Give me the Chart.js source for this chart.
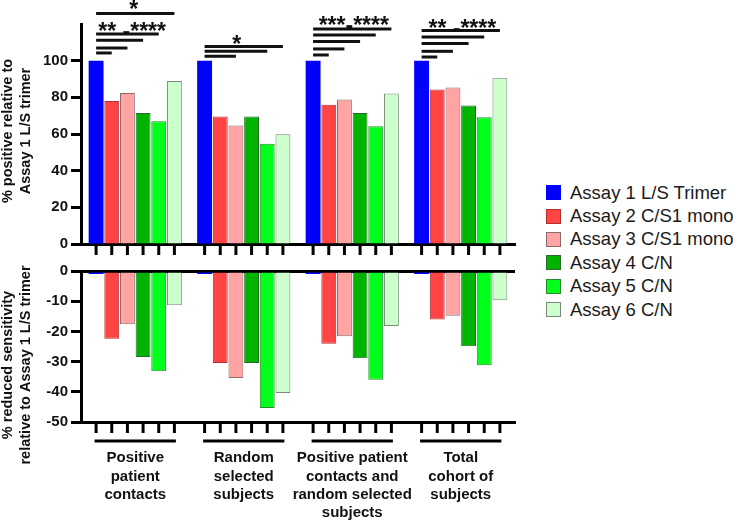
<!DOCTYPE html>
<html>
<head>
<meta charset="utf-8">
<script src="https://cdn.jsdelivr.net/npm/chart.js@4.4.1/dist/chart.umd.min.js"></script>
<style>
    html, body { margin: 0; padding: 0; background: #fff; }
    #wrap { position: relative; width: 733px; height: 521px; font-family: "Liberation Sans", Arial, sans-serif; }
    #topBox { position: absolute; left: 0; top: 0; width: 530px; height: 262px; }
    #bottomBox { position: absolute; left: 0; top: 258px; width: 530px; height: 263px; }
    #legend { position: absolute; left: 546px; top: 181px; }
    .item { height: 23.4px; display: flex; align-items: center; font-size: 18.5px; color: #1a1a1a; white-space: nowrap; }
    .sw { width: 15px; height: 15px; box-sizing: border-box; margin-right: 9px; }
</style>
</head>
<body>
<div id="wrap">
    <div id="topBox"><canvas id="topChart"></canvas></div>
    <div id="bottomBox"><canvas id="bottomChart"></canvas></div>
    <div id="legend"></div>
</div>
<script>
(function () {
    'use strict';

    var groups = [
        ['Positive', 'patient', 'contacts'],
        ['Random', 'selected', 'subjects'],
        ['Positive patient', 'contacts and', 'random selected', 'subjects'],
        ['Total', 'cohort of', 'subjects']
    ];
    var assays = ['Assay 1 L/S Trimer', 'Assay 2 C/S1 mono', 'Assay 3 C/S1 mono', 'Assay 4 C/N', 'Assay 5 C/N', 'Assay 6 C/N'];
    var colors = ['#0000ff', '#ff4444', '#ffa3a3', '#00b300', '#00ff1a', '#ccffcc'];
    var borders = ['#0000ff', '#b03030', '#8a6a6a', '#2a6a2a', '#2a8a2a', '#7a8a7a'];

    // % positive relative to assay 1
    var assay1Pos = [100, 100, 100, 100];
    var assay2Pos = [78, 69.6, 76, 84.3];
    var assay3Pos = [82.4, 64.7, 78.8, 85.4];
    var assay4Pos = [71.5, 69.6, 71.4, 75.5];
    var assay5Pos = [66.9, 54.7, 64.2, 69.2];
    var assay6Pos = [88.9, 59.8, 82.1, 90.7];

    // % reduced sensitivity
    var assay1Red = [-1, -1, -1, -1];
    var assay2Red = [-22.4, -30.5, -24.1, -16.1];
    var assay3Red = [-17.6, -35.4, -21.6, -14.8];
    var assay4Red = [-28.5, -30.5, -28.9, -24.9];
    var assay5Red = [-33.2, -45.4, -36, -31.2];
    var assay6Red = [-11.3, -40.4, -18.2, -9.7];

    var posTicks = [0, 20, 40, 60, 80, 100];
    var redTicks = [0, -10, -20, -30, -40, -50];

    // significance bars: [group, to bar, y value]
    var sigLines = [
        [0, 1, 104.2], [0, 2, 106.9], [0, 3, 111.1], [0, 4, 114.6], [0, 5, 125.7],
        [1, 2, 102.4], [1, 4, 105.1], [1, 5, 107.7],
        [2, 1, 103.1], [2, 2, 106.4], [2, 3, 110.4], [2, 4, 114.0], [2, 5, 117.3],
        [3, 1, 102.0], [3, 2, 105.1], [3, 3, 109.3], [3, 4, 112.9], [3, 5, 116.4]
    ];
    // significance labels: [group, bar position, baseline value, text]
    var sigLabels = [
        [0, 2.3, 111.8, '** -****'],
        [0, 2.4, 124.0, '*'],
        [1, 2.05, 104.8, '*'],
        [2, 2.6, 115.0, '***-****'],
        [3, 2.6, 113.2, '** -****']
    ];

    var FONT = '"Liberation Sans", Arial, sans-serif';

    function barX(chart, group, pos) {
        var i = Math.floor(pos);
        var f = pos - i;
        var a = chart.getDatasetMeta(i).data[group].x;
        if (f === 0) {
            return a;
        }
        var b = chart.getDatasetMeta(i + 1).data[group].x;
        return a + (b - a) * f;
    }

    var barTicks = {
        id: 'barTicks',
        afterDraw: function (chart, args, opts) {
            var ctx = chart.ctx;
            var area = chart.chartArea;
            ctx.save();
            ctx.strokeStyle = '#000';
            ctx.lineWidth = 3;
            chart.data.datasets.forEach(function (ds, i) {
                chart.getDatasetMeta(i).data.forEach(function (bar) {
                    ctx.beginPath();
                    ctx.moveTo(bar.x, area.bottom);
                    ctx.lineTo(bar.x, area.bottom + 11);
                    ctx.stroke();
                });
            });
            if (opts.underline) {
                var last = chart.data.datasets.length - 1;
                chart.data.labels.forEach(function (l, g) {
                    ctx.beginPath();
                    ctx.moveTo(barX(chart, g, 0) - 1.5, area.bottom + opts.underline);
                    ctx.lineTo(barX(chart, g, last) + 1.5, area.bottom + opts.underline);
                    ctx.stroke();
                });
            }
            ctx.restore();
        }
    };

    var sideTitle = {
        id: 'sideTitle',
        afterDraw: function (chart, args, opts) {
            if (!opts.lines) {
                return;
            }
            var ctx = chart.ctx;
            ctx.save();
            ctx.fillStyle = '#111';
            ctx.font = 'bold 14.5px ' + FONT;
            ctx.textAlign = 'center';
            ctx.textBaseline = 'middle';
            opts.lines.forEach(function (text, i) {
                ctx.save();
                ctx.translate(opts.xs[i], opts.centerY);
                ctx.rotate(-Math.PI / 2);
                ctx.fillText(text, 0, 0);
                ctx.restore();
            });
            ctx.restore();
        }
    };

    var significance = {
        id: 'significance',
        afterDraw: function (chart) {
            if (chart.canvas.id !== 'topChart') {
                return;
            }
            var ctx = chart.ctx;
            var y = chart.scales.y;
            ctx.save();
            ctx.strokeStyle = '#111';
            ctx.lineWidth = 3;
            sigLines.forEach(function (s) {
                var py = y.getPixelForValue(s[2]);
                ctx.beginPath();
                ctx.moveTo(barX(chart, s[0], 0), py);
                ctx.lineTo(barX(chart, s[0], s[1]), py);
                ctx.stroke();
            });
            ctx.fillStyle = '#111';
            ctx.font = 'bold 23px ' + FONT;
            ctx.textAlign = 'center';
            ctx.textBaseline = 'alphabetic';
            sigLabels.forEach(function (s) {
                ctx.fillText(s[3], barX(chart, s[0], s[1]), y.getPixelForValue(s[2]));
            });
            ctx.restore();
        }
    };

    function makeDatasets(series) {
        return series.map(function (values, i) {
            return {
                label: assays[i],
                data: values,
                backgroundColor: colors[i],
                borderColor: borders[i],
                borderWidth: i === 0 ? 0 : 1,
                categoryPercentage: 0.866,
                barPercentage: 0.95
            };
        });
    }

    function tickFilter(list) {
        return function (scale) {
            scale.ticks = list.map(function (v) { return { value: v }; });
        };
    }

    var tickFont = { family: FONT, size: 15, weight: 'bold' };

    new Chart(document.getElementById('topChart'), {
        type: 'bar',
        data: {
            labels: groups,
            datasets: makeDatasets([assay1Pos, assay2Pos, assay3Pos, assay4Pos, assay5Pos, assay6Pos])
        },
        plugins: [barTicks, sideTitle, significance],
        options: {
            responsive: true,
            maintainAspectRatio: false,
            animation: false,
            layout: { padding: { top: 24, right: 15, left: 0, bottom: 0 } },
            plugins: {
                legend: { display: false },
                tooltip: { enabled: false },
                barTicks: {},
                sideTitle: { lines: ['% positive relative to', 'Assay 1 L/S trimer'], xs: [8, 26], centerY: 131 }
            },
            scales: {
                x: {
                    grid: { display: false, drawTicks: false },
                    border: { display: true, color: '#000', width: 3 },
                    ticks: { display: false },
                    afterFit: function (scale) { scale.height = 18; }
                },
                y: {
                    min: 0,
                    max: 120,
                    afterBuildTicks: tickFilter(posTicks),
                    grid: { drawOnChartArea: false, tickLength: 10, tickWidth: 3, tickColor: '#000' },
                    border: { color: '#000', width: 3 },
                    ticks: { color: '#111', font: tickFont, padding: 3 },
                    afterFit: function (scale) { scale.width = 81; }
                }
            }
        }
    });

    new Chart(document.getElementById('bottomChart'), {
        type: 'bar',
        data: {
            labels: groups,
            datasets: makeDatasets([assay1Red, assay2Red, assay3Red, assay4Red, assay5Red, assay6Red])
        },
        plugins: [barTicks, sideTitle],
        options: {
            responsive: true,
            maintainAspectRatio: false,
            animation: false,
            layout: { padding: { top: 13, right: 15, left: 0, bottom: 0 } },
            plugins: {
                legend: { display: false },
                tooltip: { enabled: false },
                barTicks: { underline: 19 },
                sideTitle: { lines: ['% reduced sensitivity', 'relative to Assay 1 L/S trimer'], xs: [8, 26], centerY: 107 }
            },
            scales: {
                x: {
                    grid: { display: false, drawTicks: false },
                    border: { display: true, color: '#000', width: 3 },
                    ticks: {
                        color: '#111',
                        font: { family: FONT, size: 15, weight: 'bold', lineHeight: 1.22 },
                        padding: 27,
                        maxRotation: 0,
                        autoSkip: false
                    },
                    afterFit: function (scale) { scale.height = 99; }
                },
                y: {
                    min: -50,
                    max: 0,
                    afterBuildTicks: tickFilter(redTicks),
                    grid: {
                        drawOnChartArea: true,
                        color: function (c) { return c.tick && c.tick.value === 0 ? '#000' : 'rgba(0,0,0,0)'; },
                        lineWidth: function (c) { return c.tick && c.tick.value === 0 ? 3 : 1; },
                        tickLength: 10,
                        tickWidth: 3,
                        tickColor: '#000'
                    },
                    border: { color: '#000', width: 3 },
                    ticks: { color: '#111', font: tickFont, padding: 3 },
                    afterFit: function (scale) { scale.width = 81; }
                }
            }
        }
    });

    var legend = document.getElementById('legend');
    assays.forEach(function (name, i) {
        var row = document.createElement('div');
        row.className = 'item';
        var sw = document.createElement('span');
        sw.className = 'sw';
        sw.style.background = colors[i];
        sw.style.border = i === 0 ? 'none' : '1px solid ' + borders[i];
        var label = document.createElement('span');
        label.textContent = name;
        row.appendChild(sw);
        row.appendChild(label);
        legend.appendChild(row);
    });
})();
</script>
</body>
</html>
